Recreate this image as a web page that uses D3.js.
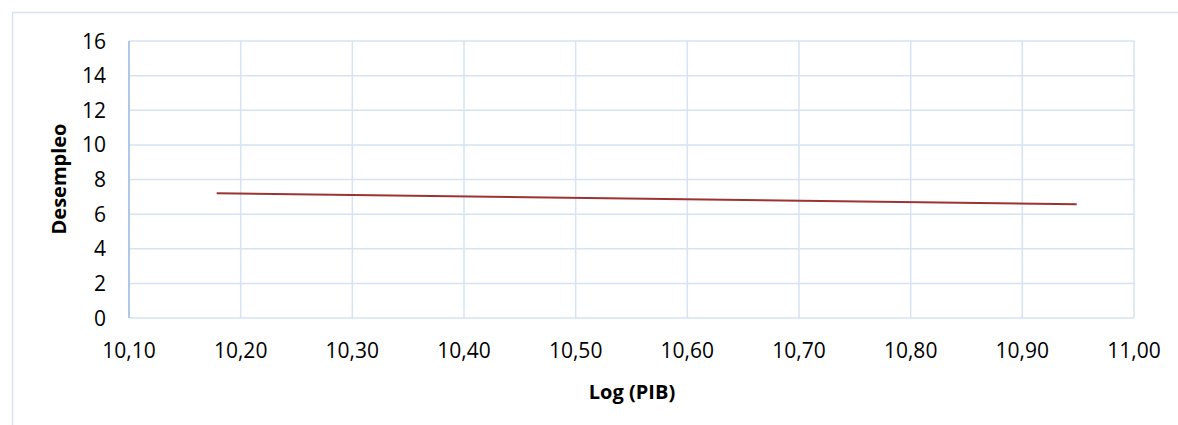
<!DOCTYPE html>
<html><head><meta charset="utf-8">
<script src="https://cdn.jsdelivr.net/npm/d3@7"></script>
<style>body{margin:0;background:#fff}svg{display:block}text{font-family:"Open Sans","Liberation Sans",Arial,sans-serif;fill:#000}</style>
</head><body><svg id="c" width="1178" height="425"></svg>
<script>
const xValues = [10.1785, 10.9487];
const yValues = [7.21, 6.57];
const xTicks = [10.10,10.20,10.30,10.40,10.50,10.60,10.70,10.80,10.90,11.00];
const yTicks = [0,2,4,6,8,10,12,14,16];
const xTitle = "Log (PIB)";
const yTitle = "Desempleo";

const svg = d3.select("#c");
const L=129, R=1134, T=41, B=318;
const x = d3.scaleLinear().domain([10.10,11.00]).range([L,R]);
const y = d3.scaleLinear().domain([0,16]).range([B,T]);
const grid="#d6e3f3";

svg.append("rect").attr("x",12.5).attr("y",12.5).attr("width",1200).attr("height",450)
  .attr("fill","none").attr("stroke",grid).attr("stroke-width",1.5);

svg.append("g").selectAll("line").data(yTicks).join("line")
  .attr("x1",L).attr("x2",R).attr("y1",d=>y(d)).attr("y2",d=>y(d))
  .attr("stroke",grid).attr("stroke-width",1.5);
svg.append("g").selectAll("line").data(xTicks).join("line")
  .attr("x1",d=>x(d)).attr("x2",d=>x(d)).attr("y1",T).attr("y2",B)
  .attr("stroke",grid).attr("stroke-width",1.5);
svg.append("line").attr("x1",L).attr("x2",L).attr("y1",T).attr("y2",B)
  .attr("stroke","#9fbde2").attr("stroke-width",1.5);

const fmt = d=>d3.format(".2f")(d).replace(".",",");
svg.append("g").selectAll("text").data(yTicks).join("text")
  .attr("x",106).attr("y",d=>y(d)).attr("text-anchor","end").attr("dy","0.36em")
  .attr("font-size",21).text(d=>d);
svg.append("g").selectAll("text").data(xTicks).join("text")
  .attr("x",d=>x(d)).attr("y",350).attr("text-anchor","middle").attr("dy","0.36em")
  .attr("font-size",21).text(fmt);

svg.append("text").attr("x",632).attr("y",392).attr("text-anchor","middle").attr("dy","0.36em")
  .attr("font-size",20).attr("font-weight","bold").text(xTitle);
svg.append("text").attr("transform","translate(59,179) rotate(-90)").attr("text-anchor","middle").attr("dy","0.36em")
  .attr("font-size",20).attr("font-weight","bold").text(yTitle);

const line = d3.line().x(d=>x(d[0])).y(d=>y(d[1]));
svg.append("path").datum(xValues.map((v,i)=>[v,yValues[i]]))
  .attr("d",line).attr("fill","none").attr("stroke","#9b3333").attr("stroke-width",2);
</script></body></html>
